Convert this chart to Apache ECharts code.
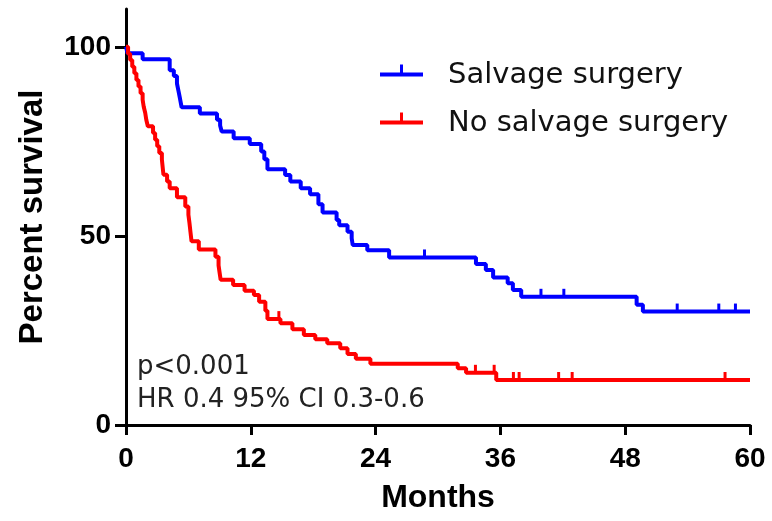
<!DOCTYPE html>
<html>
<head>
<meta charset="utf-8">
<script src="https://cdn.jsdelivr.net/npm/echarts@6.0.0/dist/echarts.min.js"></script>
<style>
  html, body { margin: 0; padding: 0; background: #ffffff; }
  #chart { width: 772px; height: 521px; }
</style>
</head>
<body>
<div id="chart"></div>
<script>
// ---- Data ----
const seriesNames = ['Salvage surgery', 'No salvage surgery'];

const blueTimes = [0, 0.15, 1.6, 4.2, 4.6, 4.9, 5.05, 5.2, 5.35, 7.1, 8.75, 9.05, 9.2, 10.35, 11.9, 13.0, 13.3, 13.6, 15.3, 15.8, 16.8, 17.7, 18.5, 18.9, 20.25, 20.5, 21.3, 21.7, 21.8, 23.2, 25.3, 33.65, 34.6, 35.3, 36.7, 37.2, 38.0, 49.1, 49.7, 60];
const blueSurv = [100, 98.3, 96.7, 93.8, 92.3, 90.3, 88.3, 86.2, 84.0, 82.4, 80.7, 79.2, 77.6, 75.8, 74.3, 72.3, 70.3, 67.6, 66.1, 64.4, 62.6, 61.0, 58.4, 56.2, 54.2, 52.8, 51.1, 49.4, 47.6, 46.2, 44.3, 42.6, 41.0, 39.0, 37.5, 35.7, 33.9, 31.8, 30.0, 30.0];

const redTimes = [0, 0.2, 0.4, 0.6, 0.8, 1.0, 1.2, 1.4, 1.6, 1.7, 1.85, 1.95, 2.1, 2.6, 2.8, 3.0, 3.2, 3.45, 3.6, 3.95, 4.2, 4.9, 5.7, 6.0, 6.1, 6.2, 6.3, 7.0, 8.6, 8.9, 9.0, 9.1, 10.3, 11.4, 12.3, 12.8, 13.4, 13.6, 14.85, 16.0, 17.1, 18.2, 19.35, 20.6, 21.3, 22.1, 23.5, 31.9, 32.7, 35.6, 60];
const redSurv = [100, 98.2, 96.5, 94.7, 93.0, 91.2, 89.5, 87.7, 86.0, 84.2, 82.5, 80.7, 79.0, 77.2, 75.4, 73.7, 71.9, 70.2, 66.2, 64.4, 62.6, 60.2, 57.8, 55.6, 53.5, 51.0, 48.6, 46.4, 44.5, 42.2, 40.3, 38.4, 37.0, 35.5, 34.4, 32.6, 30.2, 28.0, 26.9, 25.3, 23.8, 22.7, 21.6, 20.3, 18.8, 17.5, 16.2, 15.0, 13.8, 11.9, 11.9];

const blueCensorT = [28.7, 39.9, 42.1, 53.0, 57.0, 58.6];
const blueCensorS = [44.3, 33.9, 33.9, 30.0, 30.0, 30.0];
const redCensorT = [14.7, 33.6, 35.4, 37.25, 37.8, 41.6, 42.9, 57.6];
const redCensorS = [28.0, 13.8, 13.8, 11.9, 11.9, 11.9, 11.9, 11.9];

const xTicks = [0, 12, 24, 36, 48, 60];
const yTicks = [0, 50, 100];

const annotationLines = ['p<0.001', 'HR 0.4 95% CI 0.3-0.6'];

// ---- Build ----
const zip = (a, b) => a.map((v, i) => [v, b[i]]);
const BLUE = '#0000ff';
const RED = '#ff0000';

const chart = echarts.init(document.getElementById('chart'), null, { renderer: 'canvas' });

const lineSeries = (name, color, t, s) => ({
  name: name,
  type: 'line',
  step: 'end',
  data: zip(t, s),
  showSymbol: false,
  symbol: 'none',
  color: color,
  itemStyle: { color: color },
  lineStyle: { color: color, width: 4 },
  animation: false
});

const censorSeries = (name, color, t, s) => ({
  name: name,
  type: 'scatter',
  data: zip(t, s),
  symbol: 'rect',
  symbolSize: [3, 8],
  symbolOffset: [0, -4],
  itemStyle: { color: color, opacity: 1 },
  animation: false,
  z: 3
});

const option = {
  backgroundColor: '#ffffff',
  animation: false,
  grid: { left: 126, right: 22, top: 9, bottom: 96, containLabel: false },
  xAxis: {
    type: 'value',
    min: 0,
    max: 60,
    interval: 12,
    name: 'Months',
    nameLocation: 'middle',
    nameGap: 57,
    nameTextStyle: { fontFamily: 'Liberation Sans', fontWeight: 'bold', fontSize: 32, color: '#000' },
    axisLine: { show: true, lineStyle: { color: '#000', width: 3 } },
    axisTick: { show: true, length: 10, lineStyle: { color: '#000', width: 3 }, customValues: xTicks },
    axisLabel: { customValues: xTicks, margin: 20, fontFamily: 'Liberation Sans', fontWeight: 'bold', fontSize: 28, color: '#000' },
    splitLine: { show: false }
  },
  yAxis: {
    type: 'value',
    min: 0,
    max: 110,
    interval: 50,
    name: 'Percent survival',
    nameLocation: 'middle',
    nameGap: 77,
    nameTextStyle: { fontFamily: 'Liberation Sans', fontWeight: 'bold', fontSize: 33, color: '#000' },
    axisLine: { show: true, lineStyle: { color: '#000', width: 3 } },
    axisTick: { show: true, length: 11, lineStyle: { color: '#000', width: 3 }, customValues: yTicks },
    axisLabel: { customValues: yTicks, margin: 15, fontFamily: 'Liberation Sans', fontWeight: 'bold', fontSize: 28, color: '#000' },
    splitLine: { show: false }
  },
  legend: {
    orient: 'vertical',
    left: 380,
    top: 61,
    padding: 0,
    itemGap: 19,
    itemWidth: 43,
    itemHeight: 22,
    icon: 'path://M20,0H23V8H20Z M0,8H43V12H0Z M43,22',
    itemStyle: { borderWidth: 0 },
    textStyle: { fontFamily: 'DejaVu Sans', fontSize: 29, color: '#111', padding: [0, 0, 0, 20], lineHeight: 22 },
    data: seriesNames,
    selectedMode: false
  },
  graphic: annotationLines.map((txt, i) => ({
    type: 'text',
    x: 137,
    y: 367 + i * 33,
    silent: true,
    style: { text: txt, fontFamily: 'DejaVu Sans', fontSize: 26, fill: '#222', verticalAlign: 'middle', align: 'left' }
  })),
  series: [
    lineSeries(seriesNames[0], BLUE, blueTimes, blueSurv),
    lineSeries(seriesNames[1], RED, redTimes, redSurv),
    censorSeries(seriesNames[0], BLUE, blueCensorT, blueCensorS),
    censorSeries(seriesNames[1], RED, redCensorT, redCensorS)
  ]
};

chart.setOption(option);
</script>
</body>
</html>
